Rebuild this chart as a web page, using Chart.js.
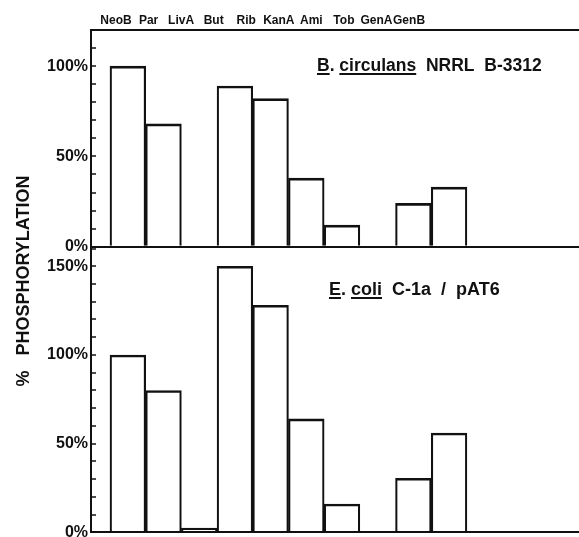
<!DOCTYPE html>
<html>
<head>
<meta charset="utf-8">
<script src="https://cdn.jsdelivr.net/npm/chart.js@4.4.0/dist/chart.umd.min.js"></script>
<style>
    html, body { margin: 0; padding: 0; background: #fff; overflow: hidden; }
</style>
</head>
<body>
<canvas id="phosChart" width="579" height="550"></canvas>
<script>
const categories = ['NeoB', 'Par', 'LivA', 'But', 'Rib', 'KanA', 'Ami', 'Tob', 'GenA', 'GenB'];
const circulansValues = [100, 68, 0, 89, 82, 38, 12, 0, 24, 33];
const coliValues = [100, 80, 2.5, 150, 128, 64, 16, 0, 30.5, 56];
const circulansTickLabels = [0, 50, 100];
const coliTickLabels = [0, 50, 100, 150];

const ink = '#111';
Chart.defaults.font.family = '"Liberation Sans", Arial, sans-serif';
Chart.defaults.color = ink;

const toPoints = values => categories.map((c, i) => ({x: i, y: values[i]}));
const steps = max => Array.from({length: Math.floor(max / 10) + 1}, (v, i) => ({value: i * 10}));

const barStyle = {
    xAxisID: 'x',
    grouped: false,
    barPercentage: 1,
    categoryPercentage: 1,
    backgroundColor: 'rgba(0,0,0,0)',
    borderColor: ink,
    borderWidth: {top: 2, left: 1.5, right: 1.5, bottom: 0},
    borderSkipped: 'start'
};

function panelAxis(max, weight, labelled) {
    return {
        type: 'linear',
        position: 'left',
        stack: 'panels',
        stackWeight: weight,
        min: 0,
        max: max,
        afterBuildTicks: s => { s.ticks = steps(max); },
        ticks: {
            autoSkip: false,
            padding: 8,
            font: {size: 16, weight: 'bold'},
            callback: v => labelled.includes(v) ? v + '%' : ''
        },
        grid: {
            color: ctx => ctx.tick && ctx.tick.value === 0 ? ink : 'rgba(0,0,0,0)',
            lineWidth: 2,
            tickColor: ink,
            tickWidth: 1.5,
            tickLength: -5
        },
        border: {display: true, color: ink, width: 2},
        afterFit: s => { s.width = 91; }
    };
}

// panel titles with underlined genus/species, and the shared y title
const annotations = {
    id: 'annotations',
    afterDraw(chart) {
        const ctx = chart.ctx;
        ctx.save();
        ctx.fillStyle = ink;
        ctx.textBaseline = 'alphabetic';

        const writeTitle = (x, y, parts) => {
            parts.forEach(([text, underline]) => {
                const w = ctx.measureText(text).width;
                ctx.fillText(text, x, y);
                if (underline) {
                    ctx.fillRect(x, y + 2, w, 2);
                }
                x += w;
            });
        };
        ctx.font = 'bold 17.5px "Liberation Sans", Arial, sans-serif';
        writeTitle(317, 71, [['B', true], ['. ', false], ['circulans', true], ['  NRRL  B-3312', false]]);
        ctx.font = 'bold 18px "Liberation Sans", Arial, sans-serif';
        writeTitle(329, 295, [['E', true], ['. ', false], ['coli', true], ['  C-1a  /  pAT6', false]]);

        ctx.translate(24, 281);
        ctx.rotate(-Math.PI / 2);
        ctx.textAlign = 'center';
        ctx.textBaseline = 'middle';
        ctx.fillText('%   PHOSPHORYLATION', 0, 0);
        ctx.restore();
    }
};

new Chart(document.getElementById('phosChart'), {
    type: 'bar',
    data: {
        datasets: [
            Object.assign({label: 'B. circulans NRRL B-3312', data: toPoints(circulansValues), yAxisID: 'yTop'}, barStyle),
            Object.assign({label: 'E. coli C-1a / pAT6', data: toPoints(coliValues), yAxisID: 'yBot'}, barStyle)
        ]
    },
    options: {
        responsive: false,
        animation: false,
        layout: {padding: 0},
        plugins: {
            legend: {display: false},
            tooltip: {enabled: false}
        },
        scales: {
            x: {
                type: 'linear',
                min: -1.032,
                max: 12.64,
                offset: false,
                ticks: {display: false},
                grid: {display: false, offset: false},
                border: {display: false},
                afterBuildTicks: s => { s.ticks = categories.map((c, i) => ({value: i})); },
                afterFit: s => { s.height = 0; }
            },
            xTop: {
                type: 'linear',
                position: 'top',
                min: -0.768,
                max: 14.22,
                offset: false,
                grid: {display: false, drawTicks: false, offset: false},
                border: {display: true, color: ink, width: 2},
                ticks: {
                    autoSkip: false,
                    maxRotation: 0,
                    padding: 2,
                    font: {size: 12, weight: 'bold'},
                    callback: v => categories[v]
                },
                afterBuildTicks: s => { s.ticks = categories.map((c, i) => ({value: i})); },
                afterFit: s => { s.height = 30; }
            },
            yBot: panelAxis(161, 286, coliTickLabels),
            yTop: panelAxis(120, 217, circulansTickLabels)
        }
    },
    plugins: [annotations]
});
</script>
</body>
</html>
